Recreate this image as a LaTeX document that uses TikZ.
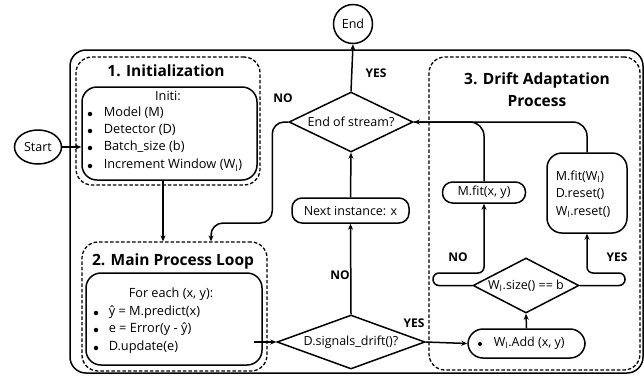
\documentclass[tikz,border=0pt]{standalone}
\usepackage{fontspec}
\setmainfont{Open Sans}
\usetikzlibrary{shapes.geometric,arrows.meta}
\begin{document}
\begin{tikzpicture}[x=1pt,y=-1pt,line width=1.5pt,
  every node/.style={font=\fontsize{12.5}{17}\selectfont},
  arr/.style={-{Stealth[length=6pt,width=5pt]}},
  dbox/.style={draw,dash pattern=on 3.5pt off 2pt,rounded corners=16pt,line width=1.3pt,inner sep=0pt},
  sbox/.style={draw,rounded corners=15pt,inner sep=0pt},
  pill/.style={draw,rounded corners=10pt,inner sep=0pt},
  dia/.style={draw,diamond,inner sep=0pt},
  ttl/.style={font=\fontsize{15.5}{22}\selectfont\bfseries,align=center},
  lbl/.style={font=\fontsize{12}{14}\selectfont\bfseries},
  hdr/.style={font=\fontsize{12.7}{17}\selectfont},
  txt/.style={anchor=west,inner sep=0pt,font=\fontsize{12.8}{17}\selectfont},
  dot/.style={circle,fill,inner sep=0pt,minimum size=4.5pt}]
\useasboundingbox (0,0) rectangle (644,376);
% outer frame
\draw[rounded corners=16pt] (70,50) rectangle (643,373);
% terminals
\node[draw,ellipse,minimum width=47pt,minimum height=34pt,inner sep=0pt] (start) at (38,147) {Start};
\node[draw,circle,minimum size=39pt,inner sep=0pt] (end) at (353,24) {End};
% group 1
\node[dbox,minimum width=184pt,minimum height=128pt] (g1) at (168,121) {};
\node[ttl] (t1) at (166,71) {1. Initialization};
\node[sbox,minimum width=175pt,minimum height=93pt] (i1) at (169.5,133.5) {};
\node[hdr] (i1h) at (168,96) {Initi:};
\node[dot] (b11) at (90,114) {};
\node[txt] (l11) at (103,113) {Model (M)};
\node[dot] (b12) at (90,131) {};
\node[txt] (l12) at (103,130) {Detector (D)};
\node[dot] (b13) at (90,148) {};
\node[txt] (l13) at (103,147) {Batch\_size (b)};
\node[dot] (b14) at (90,166) {};
\node[txt] (l14) at (103,165) {Increment Window (W\textsubscript{I})};
% group 2
\node[dbox,minimum width=185pt,minimum height=129pt] (g2) at (174.5,306.5) {};
\node[ttl] (t2) at (173,261) {2. Main Process Loop};
\node[sbox,minimum width=176pt,minimum height=92pt] (i2) at (174,319) {};
\node[hdr] (i2h) at (171,294) {For each (x, y):};
\node[dot] (b21) at (96,313) {};
\node[txt] (l21) at (108,312) {ŷ = M.predict(x)};
\node[dot] (b22) at (96,330) {};
\node[txt] (l22) at (108,329) {e = Error(y - ŷ)};
\node[dot] (b23) at (96,348) {};
\node[txt] (l23) at (108,347) {D.update(e)};
% group 3
\node[dbox,minimum width=211pt,minimum height=313pt] (g3) at (534.5,213.5) {};
\node[ttl] (t3) at (537,90) {3. Drift Adaptation\\Process};
% decisions and steps
\node[dia,minimum width=124pt,minimum height=60pt] (eos) at (351,122) {};
\node (eost) at (351,122) {End of stream?};
\node[pill,minimum width=117pt,minimum height=25pt] (nxt) at (350.5,210.5) {Next instance: x};
\node[dia,minimum width=148pt,minimum height=54pt] (dsd) at (351,342) {};
\node (dsdt) at (351,342) {D.signals\_drift()?};
\node[sbox,minimum width=117pt,minimum height=29pt] (add) at (526.5,343.5) {};
\node[dot,minimum size=4pt] (addb) at (480,344) {};
\node[anchor=west,inner sep=0pt] (addt) at (493,343.5) {W\textsubscript{I}.Add (x, y)};
\node[dia,minimum width=106pt,minimum height=55pt] (wsz) at (526,285.5) {};
\node (wszt) at (526,285.5) {W\textsubscript{I}.size() == b};
\node[pill,minimum width=83pt,minimum height=21pt] (mfxy) at (484,192.5) {M.fit(x, y)};
\node[sbox,minimum width=80pt,minimum height=80pt] (mfw) at (587,193) {};
\node[align=left,anchor=west,inner sep=0pt,font=\fontsize{12.5}{17.5}\selectfont] (mfwt) at (555,194) {M.fit(W\textsubscript{I})\\D.reset()\\W\textsubscript{I}.reset()};
% connectors
\draw[arr] (start.east) -- (start.east -| i1.west);
\draw[arr] ([xshift=-6.5pt]i1.south) -- ([xshift=-6.5pt]i1.south |- g2.north);
\coordinate (nob) at ([xshift=36.5pt]g2.north);
\draw[arr,rounded corners=12pt] (eos.west) -- ++(-16,0) -- ++(0,101) -| (nob);
\draw[arr] (eos.north) -- (end.south);
\draw[arr] (nxt.north) -- (eos.south);
\draw[arr] (dsd.north) -- (nxt.south);
\draw[arr] ([xshift=-9pt]i2.east |- dsd.west) -- (dsd.west);
\draw[arr] (dsd.east) -- (add.west);
\draw[arr] (add.north) -- (wsz.south);
\draw[arr,rounded corners=6pt] (wsz.west) -- (433,285.5) -- (433,273) -- (mfxy.south |- 0,273) -- (mfxy.south);
\draw[arr,rounded corners=6pt] (wsz.east) -- (625,285.5) -- (625,273) -- (mfw.south |- 0,273) -- (mfw.south);
\draw[rounded corners=14pt] (mfw.north) |- (eos.east);
\draw[arr,rounded corners=14pt] (mfxy.north) |- (eos.east);
% labels
\node[lbl] (lyes1) at (376,73) {YES};
\node[lbl] (lno1) at (283,98) {NO};
\node[lbl] (lno2) at (340,275) {NO};
\node[lbl] (lyes2) at (414,323) {YES};
\node[lbl] (lno3) at (458,257) {NO};
\node[lbl] (lyes3) at (617,257) {YES};
\end{tikzpicture}
\end{document}
